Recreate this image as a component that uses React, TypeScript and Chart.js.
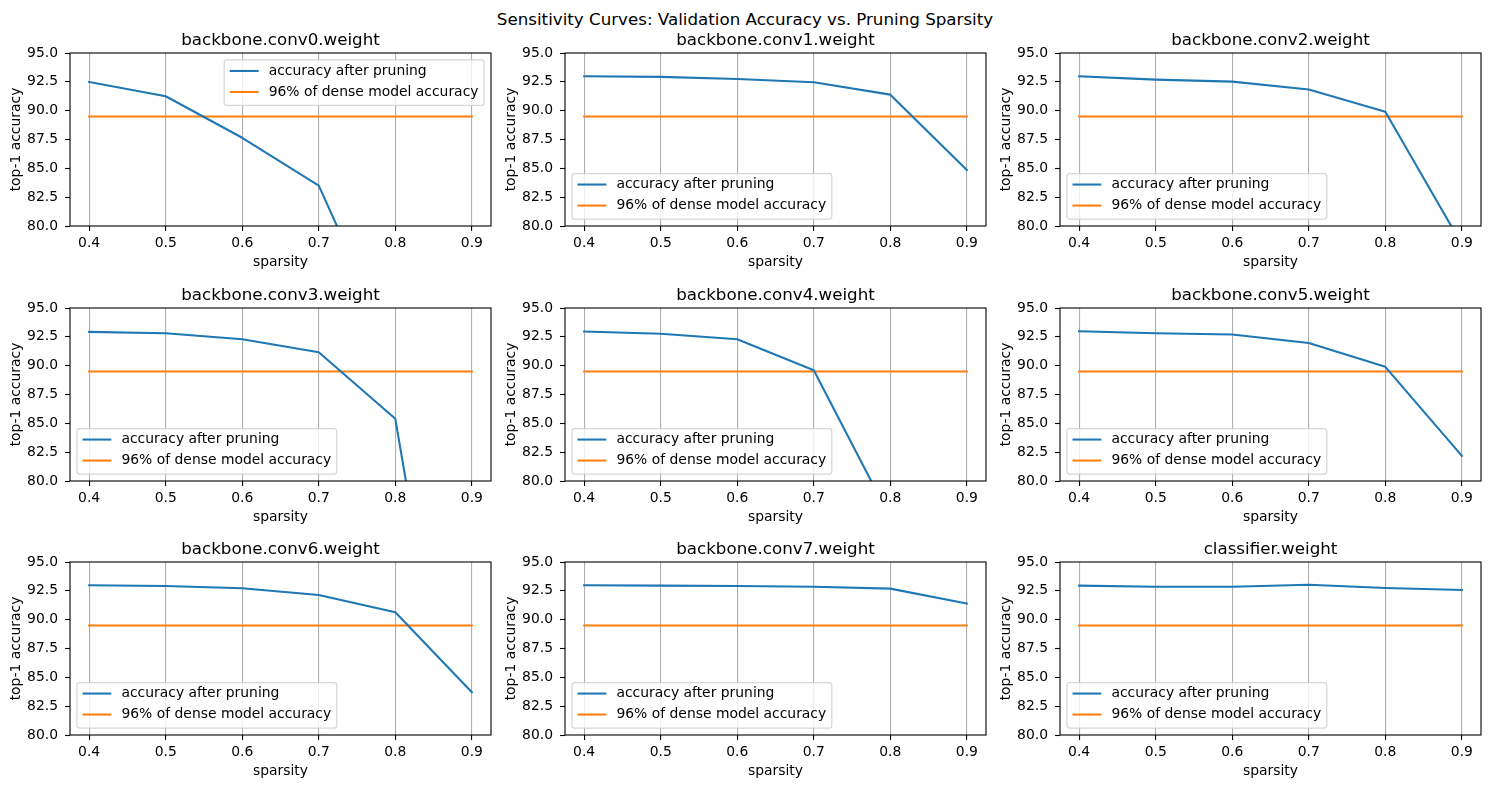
import React, { useEffect, useRef } from "react";
import { Chart, registerables } from "chart.js";

Chart.register(...registerables);

// ---------------- data ----------------
const sparsities = [0.4, 0.5, 0.6, 0.7, 0.8, 0.9];
const xTickValues = [0.4, 0.5, 0.6, 0.7, 0.8, 0.9];
const yTickValues = [80, 82.5, 85, 87.5, 90, 92.5, 95];

const layerNames = [
  "backbone.conv0.weight",
  "backbone.conv1.weight",
  "backbone.conv2.weight",
  "backbone.conv3.weight",
  "backbone.conv4.weight",
  "backbone.conv5.weight",
  "backbone.conv6.weight",
  "backbone.conv7.weight",
  "classifier.weight",
];

const accConv0 = [92.49, 91.25, 87.65, 83.5, 68.8, 45.0];
const accConv1 = [92.98, 92.93, 92.75, 92.46, 91.39, 84.85];
const accConv2 = [92.98, 92.69, 92.52, 91.83, 89.9, 78.4];
const accConv3 = [92.93, 92.81, 92.29, 91.16, 85.39, 46.6];
const accConv4 = [92.96, 92.76, 92.29, 89.6, 76.8, 50.0];
const accConv5 = [92.99, 92.81, 92.7, 91.97, 89.9, 82.18];
const accConv6 = [92.98, 92.92, 92.72, 92.14, 90.64, 83.7];
const accConv7 = [92.98, 92.95, 92.92, 92.86, 92.69, 91.39];
const accClassifier = [92.95, 92.86, 92.86, 93.03, 92.75, 92.57];

const denseThreshold = 89.5;

const legendLabels = ["accuracy after pruning", "96% of dense model accuracy"];
const legendLocations = [
  "upper right",
  "lower left",
  "lower left",
  "lower left",
  "lower left",
  "lower left",
  "lower left",
  "lower left",
  "lower left",
];

const suptitle = "Sensitivity Curves: Validation Accuracy vs. Pruning Sparsity";
const xLabel = "sparsity";
const yLabel = "top-1 accuracy";

const allAccuracies = [
  accConv0,
  accConv1,
  accConv2,
  accConv3,
  accConv4,
  accConv5,
  accConv6,
  accConv7,
  accClassifier,
];

// ---------------- styling / layout ----------------
const FONT = '"DejaVu Sans", sans-serif';
const BLUE = "#1f77b4";
const ORANGE = "#ff7f0e";
const COL_LEFT = [70, 565, 1060];
const ROW_TOP = [53, 308, 562];
const PLOT_W = 421;
const PLOT_H = 173;
const PAD_L = 70;
const PAD_T = 50;
const PAD_R = 14;
const PAD_B = 50;

function decorPlugin(title: string, loc: string) {
  return {
    id: "mplDecor",
    afterDraw(chart: any) {
      const ctx: CanvasRenderingContext2D = chart.ctx;
      const a = chart.chartArea;
      ctx.save();
      // frame
      ctx.strokeStyle = "#000";
      ctx.lineWidth = 1.1;
      ctx.strokeRect(a.left, a.top, a.right - a.left, a.bottom - a.top);
      // title
      ctx.fillStyle = "#000";
      ctx.font = `16.7px ${FONT}`;
      ctx.textAlign = "center";
      ctx.textBaseline = "alphabetic";
      ctx.fillText(title, (a.left + a.right) / 2, a.top - 7.8);
      // x label
      ctx.font = `13.9px ${FONT}`;
      ctx.fillText(xLabel, (a.left + a.right) / 2, a.bottom + 40);
      // y label
      ctx.save();
      ctx.translate(a.left - 53.5, (a.top + a.bottom) / 2);
      ctx.rotate(-Math.PI / 2);
      ctx.textBaseline = "middle";
      ctx.fillText(yLabel, 0, 0);
      ctx.restore();

      // legend
      const fs = 13.9;
      ctx.font = `${fs}px ${FONT}`;
      const textW = Math.max(...legendLabels.map((l) => ctx.measureText(l).width));
      const borderPad = 0.4 * fs;
      const handleLen = 2.0 * fs;
      const handleTextPad = 0.8 * fs;
      const axesPad = 0.5 * fs;
      const boxW = borderPad * 2 + handleLen + handleTextPad + textW;
      const boxH = 45.5;
      let bx: number, by: number;
      if (loc === "upper right") {
        bx = a.right - axesPad - boxW;
        by = a.top + axesPad;
      } else {
        bx = a.left + axesPad;
        by = a.bottom - axesPad - boxH;
      }
      const r = 2.8;
      ctx.beginPath();
      ctx.moveTo(bx + r, by);
      ctx.lineTo(bx + boxW - r, by);
      ctx.arcTo(bx + boxW, by, bx + boxW, by + r, r);
      ctx.lineTo(bx + boxW, by + boxH - r);
      ctx.arcTo(bx + boxW, by + boxH, bx + boxW - r, by + boxH, r);
      ctx.lineTo(bx + r, by + boxH);
      ctx.arcTo(bx, by + boxH, bx, by + boxH - r, r);
      ctx.lineTo(bx, by + r);
      ctx.arcTo(bx, by, bx + r, by, r);
      ctx.closePath();
      ctx.fillStyle = "rgba(255,255,255,0.8)";
      ctx.fill();
      ctx.strokeStyle = "rgba(204,204,204,0.8)";
      ctx.lineWidth = 1.2;
      ctx.stroke();

      const colors = [BLUE, ORANGE];
      const rowsY = [by + 11, by + 32];
      legendLabels.forEach((label, i) => {
        const yy = rowsY[i];
        ctx.strokeStyle = colors[i];
        ctx.lineWidth = 2.08;
        ctx.lineCap = "butt";
        ctx.beginPath();
        ctx.moveTo(bx + borderPad, yy);
        ctx.lineTo(bx + borderPad + handleLen + 1, yy);
        ctx.stroke();
        ctx.fillStyle = "#000";
        ctx.textAlign = "left";
        ctx.textBaseline = "middle";
        ctx.fillText(label, bx + borderPad + handleLen + handleTextPad, yy);
      });
      ctx.restore();
    },
  };
}

function Panel({ index }: { index: number }) {
  const ref = useRef<HTMLCanvasElement | null>(null);
  const col = index % 3;
  const row = Math.floor(index / 3);
  const left = COL_LEFT[col] - PAD_L;
  const top = ROW_TOP[row] - PAD_T;
  const width = PAD_L + PLOT_W + PAD_R;
  const height = PAD_T + PLOT_H + PAD_B;

  useEffect(() => {
    if (!ref.current) return;
    const acc = allAccuracies[index];
    const tickFont = { family: FONT, size: 13.9 };
    const chart = new Chart(ref.current, {
      type: "line",
      data: {
        datasets: [
          {
            label: legendLabels[0],
            data: sparsities.map((s, i) => ({ x: s, y: acc[i] })),
            borderColor: BLUE,
            borderWidth: 2.08,
            pointRadius: 0,
            tension: 0,
            borderCapStyle: "square",
            borderJoinStyle: "round",
            clip: 0,
          },
          {
            label: legendLabels[1],
            data: sparsities.map((s) => ({ x: s, y: denseThreshold })),
            borderColor: ORANGE,
            borderWidth: 2.08,
            pointRadius: 0,
            tension: 0,
            borderCapStyle: "square",
            clip: 0,
          },
        ],
      } as any,
      options: {
        responsive: false,
        animation: false,
        events: [],
        layout: { padding: { top: PAD_T, right: PAD_R, left: 0, bottom: 0 } },
        plugins: {
          legend: { display: false },
          title: { display: false },
          tooltip: { enabled: false },
        },
        scales: {
          x: {
            type: "linear",
            min: 0.375,
            max: 0.925,
            afterBuildTicks: (s: any) => {
              s.ticks = xTickValues.map((v) => ({ value: v }));
            },
            afterFit: (s: any) => {
              s.height = PAD_B;
            },
            ticks: {
              callback: (v: any) => Number(v).toFixed(1),
              font: tickFont,
              color: "#000",
              padding: 4,
              maxRotation: 0,
              autoSkip: false,
            },
            grid: {
              color: "#b0b0b0",
              lineWidth: 1.1,
              drawTicks: true,
              tickLength: 5,
              tickColor: "#000",
              tickWidth: 1.1,
            },
            border: { display: false },
          },
          y: {
            type: "linear",
            min: 80,
            max: 95,
            afterBuildTicks: (s: any) => {
              s.ticks = yTickValues.map((v) => ({ value: v }));
            },
            afterFit: (s: any) => {
              s.width = PAD_L;
            },
            ticks: {
              callback: (v: any) => Number(v).toFixed(1),
              font: tickFont,
              color: "#000",
              padding: 7,
              autoSkip: false,
            },
            grid: {
              drawOnChartArea: false,
              drawTicks: true,
              tickLength: 5,
              tickColor: "#000",
              tickWidth: 1.1,
            },
            border: { display: false },
          },
        },
      } as any,
      plugins: [decorPlugin(layerNames[index], legendLocations[index])],
    });
    return () => chart.destroy();
  }, [index]);

  return (
    <canvas
      ref={ref}
      width={width}
      height={height}
      style={{ position: "absolute", left, top, width, height }}
    />
  );
}

export default function App() {
  return (
    <div
      style={{
        position: "absolute",
        left: 0,
        top: 0,
        width: 1490,
        height: 788,
        background: "#fff",
        overflow: "hidden",
      }}
    >
      <div
        style={{
          position: "absolute",
          left: 0,
          top: 9,
          width: 1490,
          textAlign: "center",
          fontFamily: FONT,
          fontSize: "16.7px",
          lineHeight: "20px",
          color: "#000",
        }}
      >
        {suptitle}
      </div>
      {layerNames.map((_, i) => (
        <Panel key={i} index={i} />
      ))}
    </div>
  );
}
